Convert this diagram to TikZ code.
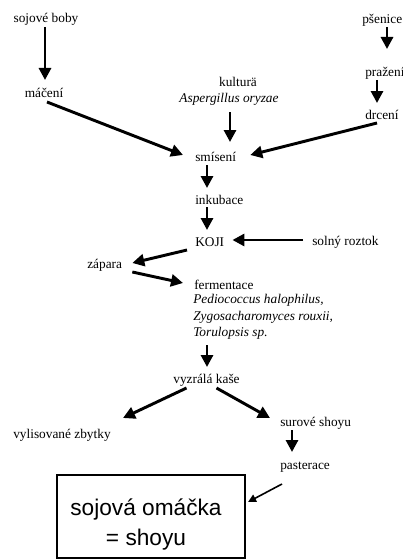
\documentclass[tikz,border=0pt]{standalone}
\usepackage{fontspec}
\setmainfont{Liberation Serif}
\newfontfamily\arialfont{Liberation Sans}
\usetikzlibrary{arrows.meta,calc}
\tikzset{
  lbl/.style={inner sep=0pt, font=\fontsize{10}{12}\selectfont},
  lblw/.style={lbl, anchor=west},
  arr/.style={line width=2.2pt, -{Triangle[length=9pt,width=9pt]}},
  thinarr/.style={line width=1.2pt, -{Triangle[length=6pt,width=6pt]}},
  boxstyle/.style={draw, line width=1.6pt, minimum width=141pt, minimum height=62pt, inner sep=0pt},
  boxtext/.style={inner sep=0pt, align=center, font=\arialfont\fontsize{17}{22.5}\selectfont}
}
\begin{document}
\begin{tikzpicture}[x=0.75pt,y=-0.75pt]
\useasboundingbox (0,0) rectangle (403,560);
% nodes
\node[lbl] (boby) at (46,19) {sojové boby};
\node[lbl] (maceni) at (44,93) {máčení};
\node[lblw] (psenice) at (362,20) {pšenice};
\node[lblw] (prazeni) at (365,73) {pražení};
\node[lblw] (drceni) at (365,115) {drcení};
\node[lbl] (kultura) at (238,82) {kulturä};
\node[lbl] (asp) at (229,99) {\itshape Aspergillus oryzae};
\node[lblw] (smiseni) at (195,157) {smísení};
\node[lblw] (inkubace) at (195,200) {inkubace};
\node[lblw] (koji) at (195,242) {KOJI};
\node[lblw] (solny) at (312,242) {solný roztok};
\node[lblw] (zapara) at (87,265) {zápara};
\node[lblw] (ferm) at (194,285) {fermentace};
\node[lblw] (pedio) at (193,300) {\itshape Pediococcus halophilus,};
\node[lblw] (zygo) at (193,317) {\itshape Zygosacharomyces rouxii,};
\node[lblw] (torul) at (193,333) {\itshape Torulopsis sp.};
\node[lbl] (vyzrala) at (206.5,380) {vyzrálá kaše};
\node[lblw] (vylis) at (13,435) {vylisované zbytky};
\node[lblw] (surove) at (280,423) {surové shoyu};
\node[lblw] (paster) at (280,467) {pasterace};
\node[boxstyle] (box) at (151,516.5) {};
\node[boxtext] (omacka) at (146,525) {sojová omáčka\\= shoyu};
% connectors
\draw[arr] ($(boby)+(-1,8)$) -- ($(maceni)+(1,-13)$);
\draw[arr] ($(maceni)+(3,9)$) -- ($(smiseni.west)+(-12,-2)$);
\draw[arr] ($(psenice.west)+(25,7)$) -- ($(prazeni.west)+(22,-24)$);
\draw[arr] ($(prazeni.west)+(12,7)$) -- ($(drceni.west)+(12,-12)$);
\draw[arr] ($(drceni.west)+(12,8)$) -- ($(smiseni.east)+(14,-2)$);
\draw[arr] ($(asp)+(1,13)$) -- ($(smiseni.west)+(35,-15)$);
\draw[arr] ($(smiseni.west)+(12,8)$) -- ($(inkubace.west)+(12,-12)$);
\draw[arr] ($(inkubace.west)+(12,7)$) -- ($(koji.west)+(12,-12)$);
\draw[arr] ($(solny.west)+(-9,-2)$) -- ($(koji.east)+(8,-2)$);
\draw[arr] ($(koji.west)+(-8,8)$) -- ($(zapara.east)+(10,-2)$);
\draw[arr] ($(zapara.east)+(10,7)$) -- ($(ferm.west)+(-11,-2)$);
\draw[arr] ($(torul.west)+(14,12)$) -- ($(vyzrala)+(0.5,-13)$);
\draw[arr] ($(vyzrala)+(-20,8)$) -- ($(vylis.west)+(110,-17)$);
\draw[arr] ($(vyzrala)+(10,8)$) -- ($(surove.west)+(-10,-5)$);
\draw[arr] ($(surove.west)+(12,7)$) -- ($(paster.west)+(12,-15)$);
\draw[thinarr] ($(paster.west)+(2,17)$) -- ($(box.east)+(2,-14.5)$);
\end{tikzpicture}
\end{document}
